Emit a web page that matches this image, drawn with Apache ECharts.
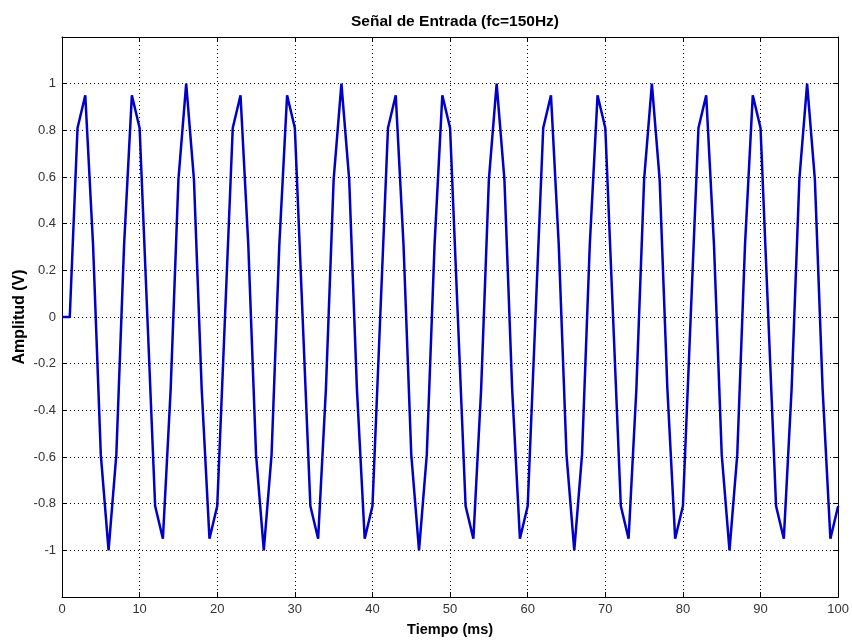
<!DOCTYPE html>
<html>
<head>
<meta charset="utf-8">
<script src="https://cdn.jsdelivr.net/npm/echarts@6/dist/echarts.min.js"></script>
<style>html,body{margin:0;padding:0;background:#fff}#c{width:852px;height:642px}</style>
</head>
<body>
<div id="c"></div>
<script>
var titleText = 'Señal de Entrada (fc=150Hz)';
var xName = 'Tiempo (ms)';
var yName = 'Amplitud (V)';
var xTicks = [0,10,20,30,40,50,60,70,80,90,100];
var yTicks = [-1,-0.8,-0.6,-0.4,-0.2,0,0.2,0.4,0.6,0.8,1];
var tiempo = [
  0,
  1,2,3,4,5,6,7,8,9,10,11,12,13,14,15,16,17,18,19,20,
  21,22,23,24,25,26,27,28,29,30,31,32,33,34,35,36,37,38,39,40,
  41,42,43,44,45,46,47,48,49,50,51,52,53,54,55,56,57,58,59,60,
  61,62,63,64,65,66,67,68,69,70,71,72,73,74,75,76,77,78,79,80,
  81,82,83,84,85,86,87,88,89,90,91,92,93,94,95,96,97,98,99,100
];
var amplitud = [
  0,
  0,0.81,0.95,0.31,-0.59,-1,-0.59,0.31,0.95,0.81,0,-0.81,-0.95,-0.31,0.59,1,0.59,-0.31,-0.95,-0.81,
  0,0.81,0.95,0.31,-0.59,-1,-0.59,0.31,0.95,0.81,0,-0.81,-0.95,-0.31,0.59,1,0.59,-0.31,-0.95,-0.81,
  0,0.81,0.95,0.31,-0.59,-1,-0.59,0.31,0.95,0.81,0,-0.81,-0.95,-0.31,0.59,1,0.59,-0.31,-0.95,-0.81,
  0,0.81,0.95,0.31,-0.59,-1,-0.59,0.31,0.95,0.81,0,-0.81,-0.95,-0.31,0.59,1,0.59,-0.31,-0.95,-0.81,
  0,0.81,0.95,0.31,-0.59,-1,-0.59,0.31,0.95,0.81,0,-0.81,-0.95,-0.31,0.59,1,0.59,-0.31,-0.95,-0.81
];

var pts = tiempo.map(function(t,i){return [t, amplitud[i]];});
var font = 'Liberation Sans, Arial, sans-serif';
function yFmt(v){
  for (var i=0;i<yTicks.length;i++){ if (Math.abs(yTicks[i]-v)<1e-6) return String(yTicks[i]); }
  return '';
}
function xFmt(v){
  for (var i=0;i<xTicks.length;i++){ if (Math.abs(xTicks[i]-v)<1e-6) return String(xTicks[i]); }
  return '';
}
function common(){
  return {
    axisLine:{show:true,onZero:false,lineStyle:{color:'#000',width:1}},
    axisTick:{show:true,inside:true,length:5,lineStyle:{color:'#000'}}
  };
}
var chart = echarts.init(document.getElementById('c'), null, {renderer:'canvas'});
chart.setOption({
  animation:false,
  backgroundColor:'#fff',
  title:{text:titleText,left:450,top:9,textAlign:'center',
    textStyle:{fontFamily:font,fontSize:15.5,fontWeight:'bold',color:'#000'}},
  grid:{left:62,right:11,top:37,bottom:44,containLabel:false},
  xAxis:[
    Object.assign({type:'value',min:0,max:100,interval:10,position:'bottom',
      name:xName,nameLocation:'middle',nameGap:25,nameMoveOverlap:false,
      nameTextStyle:{fontFamily:font,fontSize:14.5,fontWeight:'bold',color:'#000'},
      axisLabel:{fontFamily:font,fontSize:13,color:'#333',margin:6,formatter:xFmt},
      splitLine:{show:true,lineStyle:{color:'#000',type:[1,3],width:1}}},common()),
    Object.assign({type:'value',min:0,max:100,interval:10,position:'top',
      axisLabel:{show:false},splitLine:{show:false}},common())
  ],
  yAxis:[
    Object.assign({type:'value',min:-1.2,max:1.2,interval:0.2,position:'left',
      name:yName,nameLocation:'middle',nameGap:34,nameMoveOverlap:false,
      nameTextStyle:{fontFamily:font,fontSize:16,fontWeight:'bold',color:'#000'},
      axisLabel:{fontFamily:font,fontSize:13,color:'#333',margin:6,formatter:yFmt},
      splitLine:{show:true,lineStyle:{color:'#000',type:[1,3],width:1}}},common()),
    Object.assign({type:'value',min:-1.2,max:1.2,interval:0.2,position:'right',
      axisLabel:{show:false},splitLine:{show:false}},common())
  ],
  series:[{
    type:'line',data:pts,showSymbol:false,symbol:'none',
    lineStyle:{color:'#0000cc',width:2.5},
    clip:true
  }]
});
</script>
</body>
</html>
